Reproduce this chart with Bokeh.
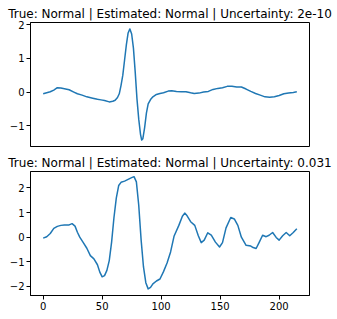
from bokeh.plotting import figure
from bokeh.layouts import column
from bokeh.models import Range1d, FixedTicker
from bokeh.embed import file_html
from bokeh.resources import INLINE

# ---- data ----
title_top = "True: Normal | Estimated: Normal | Uncertainty: 2e-10"
title_bottom = "True: Normal | Estimated: Normal | Uncertainty: 0.031"

x_top = [0, 3, 6, 9, 12, 15, 18, 22, 26, 29, 33, 37, 42, 46, 49, 52, 56, 59, 61, 63,
         64.5, 66, 67.5, 69, 70.5, 72, 73.5, 75, 76.5, 78, 79.5, 81, 82.5, 83.5, 84.5,
         86, 87.5, 89, 91, 93, 96, 99, 102, 106, 109, 113, 117, 121, 125, 128, 132,
         136, 140, 144, 148, 152, 156, 160, 164, 168, 172, 176, 180, 184, 188, 192,
         196, 200, 204, 208, 212, 215]
y_top = [-0.05, -0.02, 0.01, 0.06, 0.13, 0.12, 0.10, 0.07, 0.0, -0.05, -0.09, -0.14,
         -0.18, -0.21, -0.23, -0.25, -0.29, -0.27, -0.24, -0.16,
         -0.05, 0.20, 0.50, 0.95, 1.40, 1.75, 1.87, 1.72, 1.30, 0.60, -0.20, -0.80,
         -1.25, -1.42, -1.38, -1.05, -0.62, -0.35, -0.22, -0.14, -0.07, -0.04, -0.02,
         0.03, 0.04, 0.02, 0.01, 0.01, -0.02, -0.04, -0.03,
         0.0, 0.02, 0.08, 0.11, 0.13, 0.17, 0.17, 0.15, 0.15, 0.09, 0.02, -0.04,
         -0.09, -0.14, -0.15, -0.14, -0.10, -0.05, -0.03, -0.01, 0.01]

x_bottom = [0, 3, 6, 9, 12, 15, 18, 22, 24.5, 27, 29, 31, 34, 37, 40, 43, 46, 48, 50,
            52, 54, 56, 58, 60, 62, 64, 66, 69, 72, 75, 77, 79, 81, 83, 85, 87, 89,
            91, 93, 96, 99, 102, 105, 108, 111, 115, 118, 120, 122, 125, 128.5,
            131.5, 134, 136.5, 139.5, 142.5, 146, 149.5, 152, 155, 159, 162, 165,
            168, 172, 176, 178, 180.5, 183, 186, 189, 191.5, 194.5, 197.5, 200, 203,
            206, 209, 212, 215]
y_bottom = [-0.04, 0.02, 0.15, 0.36, 0.44, 0.48, 0.50, 0.50, 0.55, 0.45, 0.20, 0.0,
            -0.22, -0.45, -0.75, -0.88, -1.12, -1.42, -1.61,
            -1.56, -1.35, -0.95, -0.20, 0.80, 1.60, 2.10, 2.23, 2.28, 2.35, 2.42, 2.46,
            2.25, 1.30, -0.10, -1.20, -1.85, -2.10,
            -2.04, -1.90, -1.78, -1.70, -1.40, -1.05, -0.60, 0.05, 0.48, 0.85, 0.98,
            0.87, 0.63, 0.48,
            0.06, -0.22, -0.12, 0.18, 0.08, -0.20, -0.40, -0.22, 0.38, 0.80, 0.74, 0.48,
            0.0, -0.33, -0.36, -0.42, -0.46, -0.22, 0.08, 0.02, 0.08, 0.19, -0.01, -0.12,
            0.06, 0.19, 0.06, 0.19, 0.34]

x_ticks = [0, 50, 100, 150, 200]
y_ticks_top = [-1, 0, 1, 2]
y_ticks_bottom = [-2, -1, 0, 1, 2]

LINE = "#1f77b4"
FONT = "DejaVu Sans"


def make(title, xs, ys, yr, yticks, show_x, top_border, bottom_border):
    p = figure(frame_width=279, frame_height=124, output_backend="svg",
               toolbar_location=None, x_range=Range1d(-10.75, 225.75),
               y_range=Range1d(*yr), min_border_left=30, min_border_right=26,
               min_border_top=top_border, min_border_bottom=bottom_border,
               title=title)
    p.title.text_font = FONT
    p.title.text_font_size = "12px"
    p.title.text_font_style = "normal"
    p.title.text_color = "black"
    p.title.align = "center"
    p.title.standoff = 3
    p.grid.visible = False
    p.outline_line_color = "black"
    p.outline_line_width = 1
    p.background_fill_color = "white"
    p.border_fill_color = "white"
    for ax in (p.xaxis[0], p.yaxis[0]):
        ax.major_label_text_font = FONT
        ax.major_label_text_font_size = "10px"
        ax.major_label_text_color = "black"
        ax.major_tick_out = 4
        ax.major_tick_in = 0
        ax.minor_tick_out = 0
        ax.minor_tick_in = 0
        ax.axis_line_color = "black"
        ax.major_tick_line_color = "black"
        ax.major_label_standoff = 2
    p.yaxis[0].ticker = FixedTicker(ticks=yticks)
    p.yaxis[0].major_label_overrides = {t: (("\u2212" + str(-t)) if t < 0 else str(t)) for t in yticks}
    p.xaxis[0].ticker = FixedTicker(ticks=x_ticks)
    p.xaxis[0].visible = show_x
    p.line(xs, ys, line_color=LINE, line_width=1.5, line_join="round")
    return p


p1 = make(title_top, x_top, y_top, (-1.61, 2.06), y_ticks_top, False, 22, 6)
p2 = make(title_bottom, x_bottom, y_bottom, (-2.37, 2.67), y_ticks_bottom, True, 19, 0)

layout = column(p1, p2, spacing=0)
open("out.html", "w").write(file_html(layout, INLINE))
